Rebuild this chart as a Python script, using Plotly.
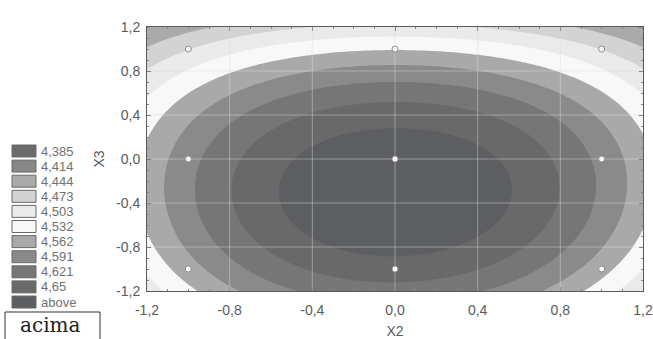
import numpy as np
import plotly.graph_objects as go

# ---- data -------------------------------------------------------------
x2_design = [-1, -1, -1, 0, 0, 0, 1, 1, 1]
x3_design = [-1, 0, 1, -1, 0, 1, -1, 0, 1]
response = [4.548, 4.580, 4.472, 4.637, 4.672, 4.530, 4.543, 4.582, 4.472]

level_labels = ["4,385", "4,414", "4,444", "4,473", "4,503", "4,532",
                "4,562", "4,591", "4,621", "4,65", "above"]
level_start = 4.385
level_end = 4.65
band_colors = ["#6b6b6b", "#878787", "#aaaaaa", "#d3d3d3", "#eaeaea", "#f8f8f8",
               "#a9a9a9", "#8a8a8a", "#767676", "#69696a", "#5d5e61"]

tick_vals = [-1.2, -0.8, -0.4, 0.0, 0.4, 0.8, 1.2]
tick_text = ["-1,2", "-0,8", "-0,4", "0,0", "0,4", "0,8", "1,2"]
axis_x_title = "X2"
axis_y_title = "X3"
box_text = "acima"

# ---- fitted response surface (full 3x3 polynomial through design points)
def terms(x, y):
    return np.stack([np.ones_like(x), x, y, x * x, y * y, x * y,
                     x * x * y, x * y * y, x * x * y * y], axis=-1)

A = terms(np.array(x2_design, float), np.array(x3_design, float))
coef, *_ = np.linalg.lstsq(A, np.array(response, float), rcond=None)
gx = np.linspace(tick_vals[0], tick_vals[-1], 181)
gy = np.linspace(tick_vals[0], tick_vals[-1], 181)
GX, GY = np.meshgrid(gx, gy)
Z = terms(GX, GY) @ coef

# step colorscale: band k is sampled at k/10
n = len(band_colors)
cscale = []
for k, c in enumerate(band_colors):
    lo = max(0.0, (k - 0.5) / (n - 1))
    hi = min(1.0, (k + 0.5) / (n - 1))
    cscale.append([lo, c])
    cscale.append([hi, c])

fig = go.Figure()
fig.add_trace(go.Contour(
    x=gx, y=gy, z=Z, autocontour=False,
    contours=dict(start=level_start, end=level_end,
                  size=(level_end - level_start) / 9,
                  coloring="fill", showlines=False),
    colorscale=cscale, showscale=False, line=dict(width=0),
    hoverinfo="skip"))

# grid lines above the fill
for v in tick_vals[1:-1]:
    fig.add_shape(type="line", xref="x", yref="paper", x0=v, x1=v, y0=0, y1=1,
                  line=dict(color="rgba(220,220,220,0.45)", width=1), layer="above")
    fig.add_shape(type="line", xref="paper", yref="y", x0=0, x1=1, y0=v, y1=v,
                  line=dict(color="rgba(220,220,220,0.45)", width=1), layer="above")

fig.add_trace(go.Scatter(
    x=x2_design, y=x3_design, mode="markers",
    marker=dict(size=6, color="white", line=dict(color="#8a8a8a", width=1)),
    hoverinfo="skip", showlegend=False))

# ---- custom legend (left side) ----------------------------------------
L, T, W, H = 147, 27, 496, 264
def px(xp):
    return (xp - L) / W
def py(yp):
    return (T + H - yp) / H

for i, (lab, col) in enumerate(zip(level_labels, band_colors)):
    yc = 151 + 15.1 * i
    fig.add_shape(type="rect", xref="paper", yref="paper",
                  x0=px(12), x1=px(36), y0=py(yc + 6), y1=py(yc - 6),
                  fillcolor=col, line=dict(color="#6a6a6a", width=1))
    fig.add_annotation(xref="paper", yref="paper", x=px(39), y=py(yc),
                       text=lab, showarrow=False, xanchor="left", yanchor="middle",
                       font=dict(family="Liberation Sans", size=13, color="#707070"))

fig.add_shape(type="rect", xref="paper", yref="paper",
              x0=px(5), x1=px(100), y0=py(350), y1=py(312),
              line=dict(color="#333333", width=1), fillcolor="white")
fig.add_annotation(xref="paper", yref="paper", x=px(50), y=py(325),
                   text=box_text, showarrow=False, xanchor="center", yanchor="middle",
                   font=dict(family="DejaVu Serif", size=20, color="#222222"))

axis_common = dict(
    range=[tick_vals[0], tick_vals[-1]], tickmode="array",
    tickvals=tick_vals, ticktext=tick_text,
    showgrid=False, zeroline=False, automargin=False,
    showline=True, linecolor="#5a5a5a", linewidth=1, mirror="ticks",
    ticks="inside", ticklen=4, tickcolor="#666666",
    minor=dict(ticks="inside", ticklen=2, tickcolor="#888888",
               tickmode="linear", tick0=0, dtick=0.1),
    tickfont=dict(family="Liberation Sans", size=14, color="#5a5a5a"),
    layer="above traces",
)

fig.update_layout(
    width=653, height=339,
    margin=dict(l=L, r=653 - L - W, t=T, b=339 - T - H),
    paper_bgcolor="white", plot_bgcolor="white",
    showlegend=False,
    xaxis=dict(**axis_common, ticklabelstandoff=6,
               title=dict(text=axis_x_title, standoff=10,
                          font=dict(family="Liberation Sans", size=14, color="#5a5a5a"))),
    yaxis=dict(**axis_common, ticklabelstandoff=3,
               title=dict(text=axis_y_title, standoff=8,
                          font=dict(family="Liberation Sans", size=14, color="#5a5a5a"))),
)

fig.write_html("out.html", config={"displayModeBar": False},
               post_script="document.body.style.margin='0';document.body.style.overflow='hidden';")
